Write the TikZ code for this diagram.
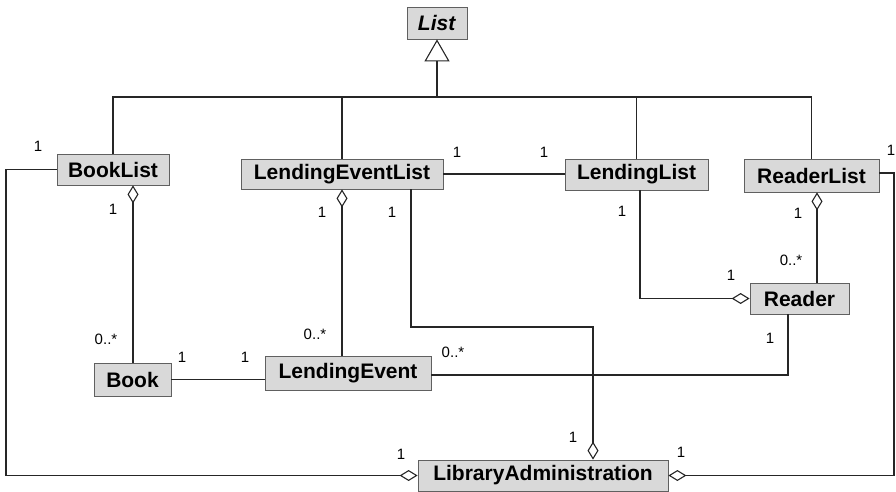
\documentclass[tikz,border=0pt]{standalone}
\usepackage{fontspec}
\setmainfont{Liberation Sans}
\usetikzlibrary{arrows.meta}
\begin{document}
\begin{tikzpicture}[x=1pt,y=-1pt,
  cls/.style={draw=gray!75!black, fill=gray!30, line width=0.8pt, inner sep=0pt,
     font=\bfseries\fontsize{21}{24}\selectfont},
  mult/.style={inner sep=0pt, font=\fontsize{15}{17}\selectfont},
  conn/.style={line width=1.1pt, draw=black!85},
  agg/.style={conn, -{Diamond[open,length=18pt,width=11pt,line width=1.1pt]}},
  gen/.style={conn, -{Triangle[open,length=22pt,width=25pt,line width=1.1pt]}}]
\useasboundingbox (0,0) rectangle (896,491);

% classes
\node[cls, minimum width=60pt, minimum height=32pt] (List) at (437,23) {\textit{List}};
\node[cls, minimum width=112pt, minimum height=31pt] (BL) at (113,169.5) {BookList};
\node[cls, minimum width=202pt, minimum height=30pt] (LEL) at (342,174) {LendingEventList};
\node[cls, minimum width=143pt, minimum height=31pt] (LL) at (636.5,174.5) {LendingList};
\node[cls, minimum width=135pt, minimum height=33pt] (RL) at (811.5,175.5) {ReaderList};
\node[cls, minimum width=77pt, minimum height=33pt] (Book) at (132.5,379.5) {Book};
\node[cls, minimum width=166pt, minimum height=34pt] (LE) at (348,373) {LendingEvent};
\node[cls, minimum width=99pt, minimum height=31pt] (Reader) at (799.5,298.5) {Reader};
\node[cls, minimum width=250pt, minimum height=31pt] (LA) at (543,475.5) {LibraryAdministration};

% junction coordinates
\coordinate (hub) at (437,97);
\coordinate (jBL) at (133,0);
\coordinate (jLE1) at (411,327);
\coordinate (jLE2) at (593,327);
\coordinate (jLL) at (640,0);
\coordinate (jRL) at (817,0);
\coordinate (jR) at (788,0);
\coordinate (jLeft) at (6,0);
\coordinate (jRight) at (894,0);

% generalization
\draw[gen] (hub) -- (List.south);
\draw[conn] (BL.north) |- (RL.north |- hub) -- (RL.north);
\draw[conn] (LEL.north) -- (LEL.north |- hub);
\draw[conn] (LL.north) -- (LL.north |- hub);

% associations / aggregations
\draw[agg] (jBL |- Book.north) -- (jBL |- BL.south);
\draw[agg] (LEL.south |- LE.north) -- (LEL.south);
\draw[agg] (jLE1 |- LEL.south) -- (jLE1) -- (jLE2) -- (jLE2 |- LA.north);
\draw[conn] (LEL.east) -- (LEL.east -| LL.west);
\draw[agg] (jLL |- LL.south) |- (Reader.west);
\draw[agg] (jRL |- Reader.north) -- (jRL |- RL.south);
\draw[agg] (RL.east |- 0,173) -| (jRight |- LA.east) -- (LA.east);
\draw[agg] (BL.west) -| (jLeft |- LA.west) -- (LA.west);
\draw[conn] (Book.east) -- (Book.east -| LE.west);
\draw[conn] (LE.east |- 0,375) -| (jR |- Reader.south);

% multiplicities
\node[mult] (m1) at (38,146) {1};
\node[mult] (m2) at (401,454) {1};
\node[mult] (m3) at (113,209) {1};
\node[mult] (m4) at (106,339) {0..*};
\node[mult] (m5) at (182,357) {1};
\node[mult] (m6) at (245,357) {1};
\node[mult] (m7) at (322,212) {1};
\node[mult] (m8) at (315,334) {0..*};
\node[mult] (m9) at (392,212) {1};
\node[mult] (m10) at (573,437) {1};
\node[mult] (m11) at (457,152) {1};
\node[mult] (m12) at (544,152) {1};
\node[mult] (m13) at (622,211) {1};
\node[mult] (m14) at (731,275) {1};
\node[mult] (m15) at (798,213) {1};
\node[mult] (m16) at (791,260) {0..*};
\node[mult] (m17) at (891,150) {1};
\node[mult] (m18) at (681,452) {1};
\node[mult] (m19) at (453,352) {0..*};
\node[mult] (m20) at (770,338) {1};
\end{tikzpicture}
\end{document}
